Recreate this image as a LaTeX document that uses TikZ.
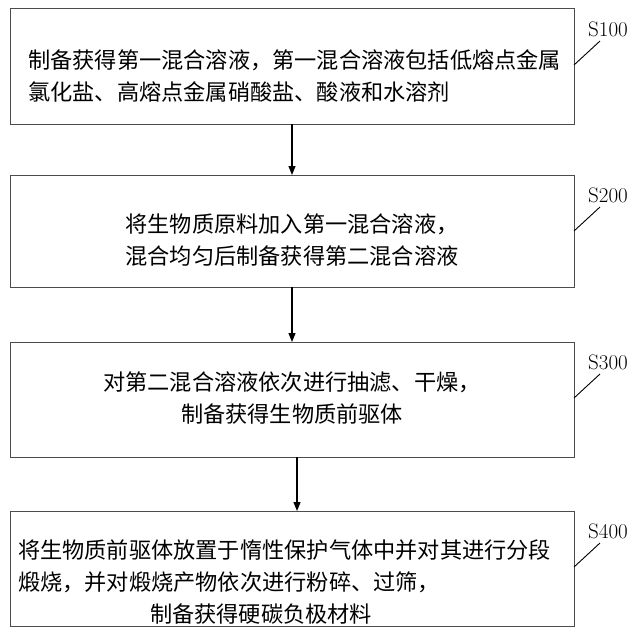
\documentclass[tikz,border=0pt]{standalone}
\usepackage{fontspec}
\newfontfamily\cjk{Noto Sans CJK SC}
\usetikzlibrary{arrows.meta}
\begin{document}
\begin{tikzpicture}[x=1pt,y=-1pt,
  box/.style={draw=black!70,line width=1pt},
  txt/.style={font=\cjk\fontsize{22.2}{32}\selectfont,inner sep=0pt},
  lbl/.style={font=\fontsize{21}{22}\selectfont,inner sep=0pt},
  arr/.style={-{Triangle[length=9pt,width=7pt]},line width=1.2pt}]
\useasboundingbox (0,0) rectangle (640,634);
\draw[box] (10,9) rectangle (574,124);
\draw[box] (10,175) rectangle (574,287);
\draw[box] (10,342) rectangle (574,457);
\draw[box] (10,511) rectangle (574,626);
\coordinate (b1) at (292,124); \coordinate (t2) at (292,175);
\coordinate (b2) at (292,287); \coordinate (t3) at (292,342);
\coordinate (b3) at (297,457); \coordinate (t4) at (297,511);
\node[txt,align=left,anchor=west] (x1) at (28,76) {制备获得第一混合溶液，第一混合溶液包括低熔点金属\\氯化盐、高熔点金属硝酸盐、酸液和水溶剂};
\node[txt,align=center] (x2) at (292,240) {将生物质原料加入第一混合溶液，\\混合均匀后制备获得第二混合溶液};
\node[txt,align=center] (x3) at (292,398) {对第二混合溶液依次进行抽滤、干燥，\\制备获得生物质前驱体};
\node[txt,align=left,anchor=west] (x4) at (18,582) {将生物质前驱体放置于惰性保护气体中并对其进行分段\\煅烧，并对煅烧产物依次进行粉碎、过筛，\\\hspace{132pt}制备获得硬碳负极材料};
\draw[arr] (b1) -- (t2);
\draw[arr] (b2) -- (t3);
\draw[arr] (b3) -- (t4);
\foreach \i/\y/\n in {1/9/S100,2/175/S200,3/342/S300,4/511/S400}{
  \node[lbl] (s\i) at (608,\y+20) {\n};
  \draw[line width=0.9pt] (574,\y+56) -- (600,\y+32);
}
\end{tikzpicture}
\end{document}
